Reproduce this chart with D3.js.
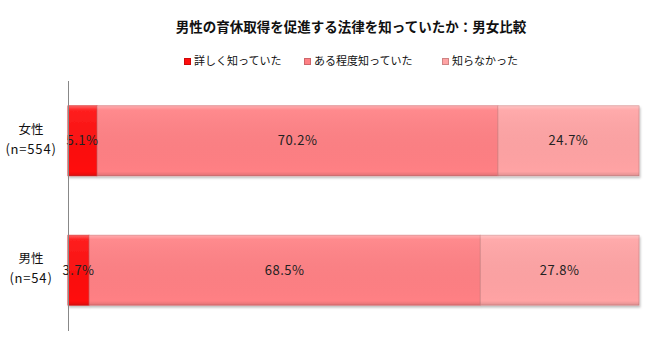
<!DOCTYPE html>
<html><head><meta charset="utf-8">
<script src="https://cdn.jsdelivr.net/npm/d3@7"></script>
<style>body{margin:0;background:#fff;}svg{display:block;font-family:"Noto Sans CJK JP","Noto Sans",sans-serif;}</style>
</head><body>
<svg id="c" width="646" height="351"></svg>
<script>
const title = "男性の育休取得を促進する法律を知っていたか：男女比較";
const categories = ["女性", "男性"];
const categoryN = ["(n=554)", "(n=54)"];
const seriesNames = ["詳しく知っていた", "ある程度知っていた", "知らなかった"];
const seriesColors = ["#ff0d0d", "#ff8084", "#ffa3a4"];
const detailed = [5.1, 3.7];
const somewhat = [70.2, 68.5];
const unaware = [24.7, 27.8];
const seriesValues = [detailed, somewhat, unaware];

const svg = d3.select("#c");
const x = d3.scaleLinear().domain([0, 100]).range([68, 639]);
const y = d3.scaleBand().domain(categories).range([80, 331]).paddingInner(0.46).paddingOuter(0.2);

const defs = svg.append("defs");
const f = defs.append("filter").attr("id","sh").attr("x","-5%").attr("y","-10%").attr("width","110%").attr("height","130%");
f.append("feDropShadow").attr("dx",1).attr("dy",2).attr("stdDeviation",1.2).attr("flood-color","#000").attr("flood-opacity",0.25);
const g = defs.append("linearGradient").attr("id","bev").attr("x1",0).attr("y1",0).attr("x2",0).attr("y2",1);
g.append("stop").attr("offset","0").attr("stop-color","#fff").attr("stop-opacity",0.35);
g.append("stop").attr("offset","0.06").attr("stop-color","#fff").attr("stop-opacity",0.08);
g.append("stop").attr("offset","0.94").attr("stop-color","#000").attr("stop-opacity",0);
g.append("stop").attr("offset","1").attr("stop-color","#000").attr("stop-opacity",0.12);

svg.append("text").attr("x", 351).attr("y", 32).attr("text-anchor","middle")
  .attr("font-size", 13.5).attr("font-weight","bold").attr("fill","#111").text(title);

// legend
const legendX = [184, 304, 442];
seriesNames.forEach((n,i)=>{
  svg.append("rect").attr("x", legendX[i]+0.5).attr("y", 58.5).attr("width", 6).attr("height", 6)
    .attr("fill", seriesColors[i]).attr("stroke", d3.color(seriesColors[i]).darker(0.6));
  svg.append("text").attr("x", legendX[i]+10).attr("y", 65).attr("font-size", 11).attr("fill","#111").text(n);
});

const stacked = categories.map((c,ci)=>{
  let acc = 0;
  return seriesValues.map((arr,si)=>{ const d={cat:c, si, v:arr[ci], x0:acc, x1:acc+arr[ci]}; acc+=arr[ci]; return d; });
});

stacked.forEach(row=>{
  const gr = svg.append("g").attr("filter","url(#sh)");
  row.forEach(d=>{
    gr.append("rect").attr("x", x(d.x0)).attr("y", y(d.cat)).attr("width", x(d.x1)-x(d.x0)).attr("height", y.bandwidth())
      .attr("fill", seriesColors[d.si]).attr("stroke", d3.color(seriesColors[d.si]).darker(0.5)).attr("stroke-width", 0.8);
    gr.append("rect").attr("x", x(d.x0)).attr("y", y(d.cat)).attr("width", x(d.x1)-x(d.x0)).attr("height", y.bandwidth())
      .attr("fill", "url(#bev)");
  });
  row.forEach(d=>{
    svg.append("text").attr("x", (x(d.x0)+x(d.x1))/2).attr("y", y(d.cat)+y.bandwidth()/2+4.5)
      .attr("text-anchor","middle").attr("font-size", 13).attr("letter-spacing", 0.5).attr("fill","#222").text(d.v.toFixed(1)+"%");
  });
});

// axis line
svg.append("line").attr("x1",68.5).attr("x2",68.5).attr("y1",81).attr("y2",331).attr("stroke","#888").attr("stroke-width",1);

categories.forEach((c,i)=>{
  const cy = y(c)+y.bandwidth()/2;
  svg.append("text").attr("x",31).attr("y",cy-7).attr("text-anchor","middle").attr("font-size",12.5).attr("fill","#111").text(c);
  svg.append("text").attr("x",31).attr("y",cy+13).attr("text-anchor","middle").attr("font-size",13).attr("letter-spacing",0.8).attr("fill","#111").text(categoryN[i]);
});
</script>
</body></html>
